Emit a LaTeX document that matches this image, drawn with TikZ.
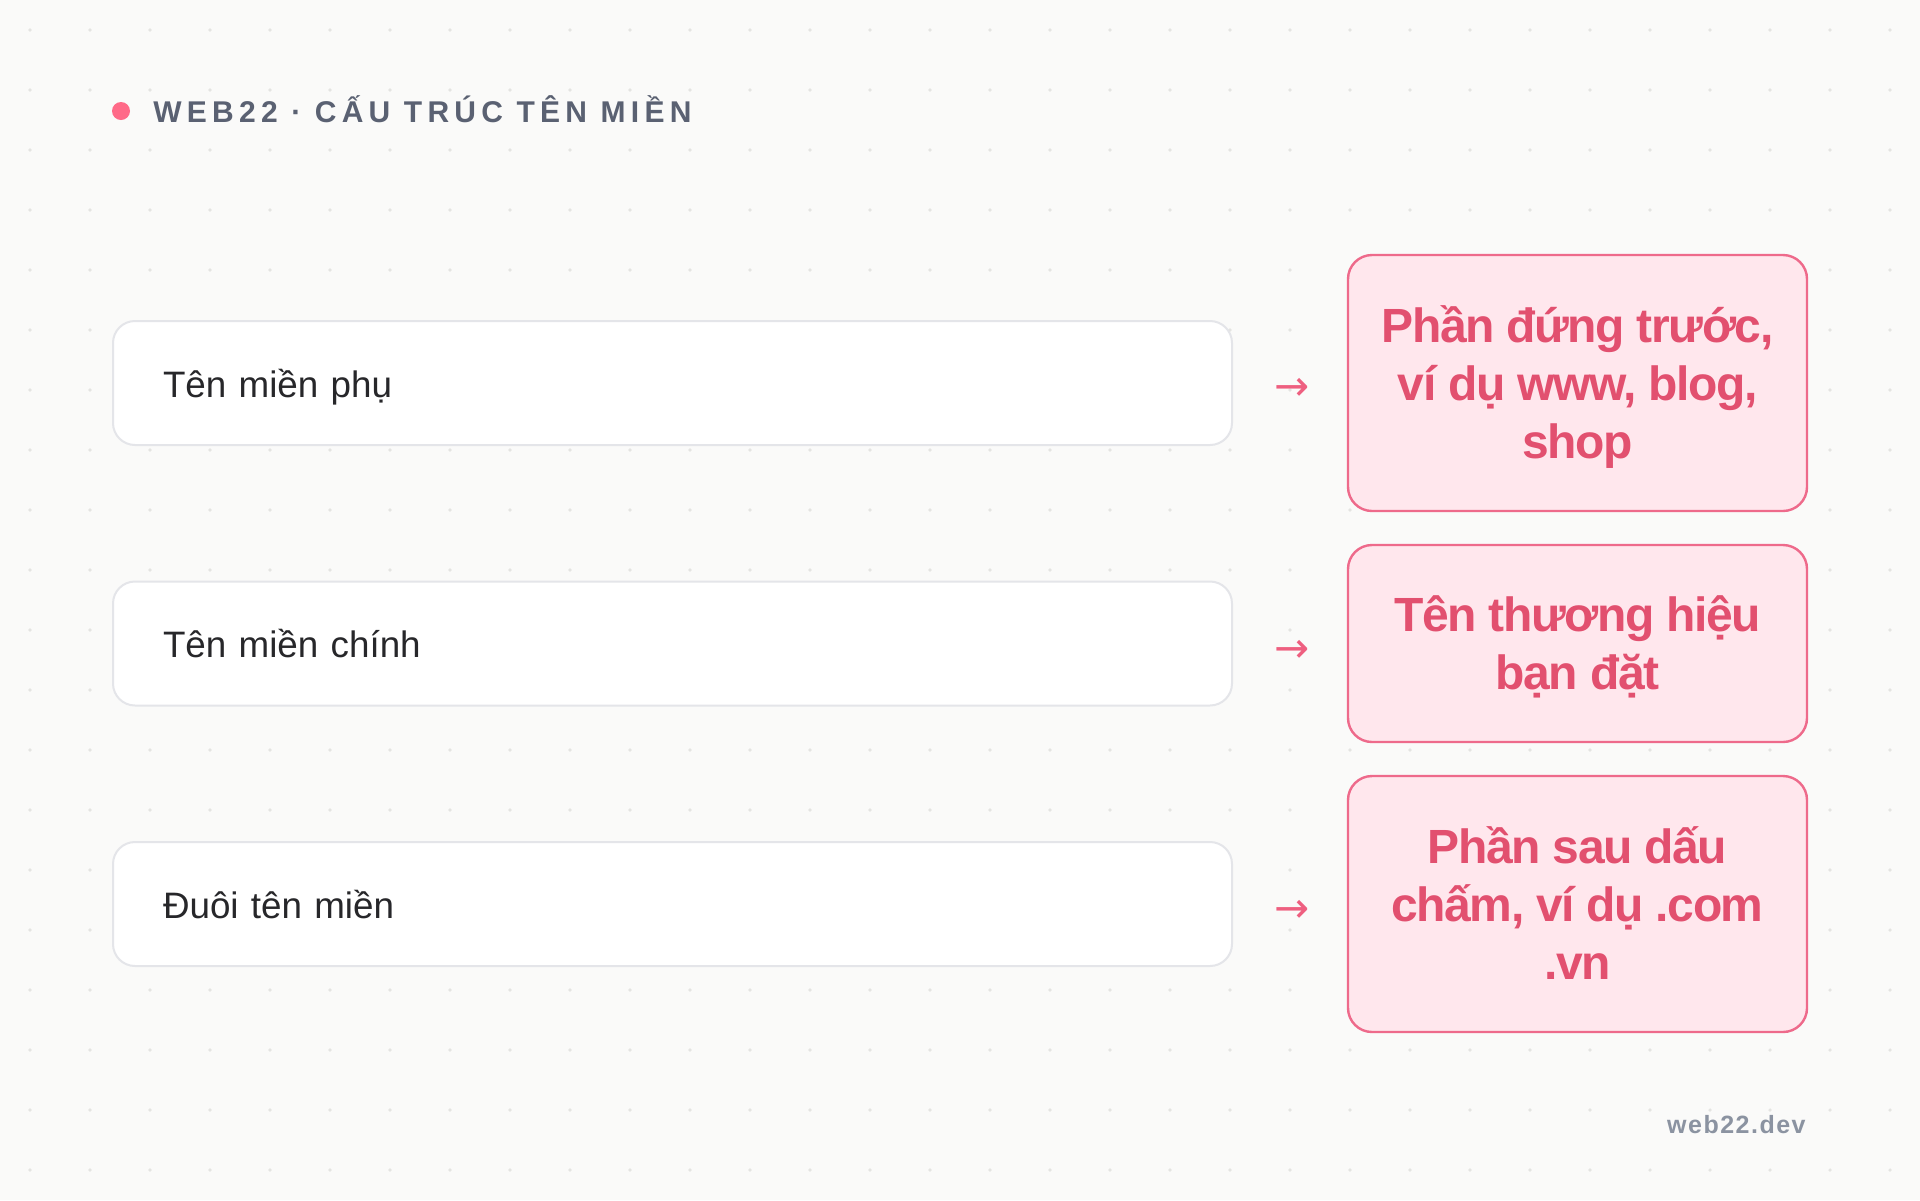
\documentclass[tikz,border=0pt]{standalone}
\usepackage{fontspec}
\setmainfont{Liberation Sans}
\newfontfamily\symfont{DejaVu Sans}
\newfontfamily\titlefont[LetterSpace=17.5]{Liberation Sans}
\newfontfamily\footfont[LetterSpace=6]{Liberation Sans}
\newfontfamily\boxfont[LetterSpace=-3]{Liberation Sans}
\definecolor{bgc}{HTML}{FAFAF9}
\definecolor{dotc}{HTML}{E4E4E2}
\definecolor{accent}{HTML}{FF6A88}
\definecolor{titlec}{HTML}{5A6172}
\definecolor{lborder}{HTML}{E4E5E9}
\definecolor{ltext}{HTML}{27272A}
\definecolor{arrowc}{HTML}{EE5F80}
\definecolor{rfill}{HTML}{FFE7ED}
\definecolor{rborder}{HTML}{EE6A8B}
\definecolor{rtext}{HTML}{E2506F}
\definecolor{footc}{HTML}{8B93A1}
\newcommand{\mystrutL}{\rule[-4.5pt]{0pt}{23pt}}
\newcommand{\mystrutR}{\rule[-5.5pt]{0pt}{28pt}}
\begin{document}
\begin{tikzpicture}[x=0.5pt,y=-0.5pt,
  leftbox/.style={draw=lborder, line width=1pt, fill=white, rounded corners=11pt,
    minimum width=559.5pt, minimum height=62pt, text width=509.5pt,
    inner xsep=25pt, inner ysep=0pt, outer sep=0pt, align=left,
    font=\fontsize{18.4}{22}\selectfont, text=ltext, anchor=west},
  rightbox/.style={draw=rborder, line width=1.2pt, fill=rfill, rounded corners=12pt,
    minimum width=229.5pt, align=center, inner sep=0pt, outer sep=0pt,
    font=\boxfont\bfseries\fontsize{24}{29}\selectfont, text=rtext},
  arrowlbl/.style={font=\symfont\fontsize{21}{21}\selectfont, text=arrowc, inner sep=0pt},
]
\useasboundingbox (0,0) rectangle (1920,1200);
\fill[bgc] (0,0) rectangle (1920,1200);
\foreach \i in {0,...,31}{
  \foreach \j in {0,...,19}{
    \fill[dotc] (30+60*\i,30+60*\j) circle (1.8);
  }
}
% title
\node[circle, fill=accent, minimum size=9pt, inner sep=0pt] (tdot) at (121,111) {};
\node[anchor=base west, inner sep=0pt, text=titlec,
  font=\titlefont\bfseries\fontsize{15}{17}\selectfont] (title) at (153,122.5)
  {WEB22 · CẤU TRÚC TÊN MIỀN};
% left boxes
\node[leftbox] (l1) at (113,383) {\mystrutL Tên miền phụ};
\node[leftbox] (l2) at (113,643.5) {\mystrutL Tên miền chính};
\node[leftbox] (l3) at (113,904) {\mystrutL Đuôi tên miền};
% arrows
\node[arrowlbl] (a1) at (1292,389.5) {→};
\node[arrowlbl] (a2) at (1292,651.5) {→};
\node[arrowlbl] (a3) at (1292,911.5) {→};
% right boxes
\node[rightbox, minimum height=128pt] (r1) at (1577.5,383)
  {\mystrutR Phần đứng trước,\\\mystrutR ví dụ www, blog,\\\mystrutR shop};
\node[rightbox, minimum height=98.5pt] (r2) at (1577.5,643.5)
  {\mystrutR Tên thương hiệu\\\mystrutR bạn đặt};
\node[rightbox, minimum height=128pt] (r3) at (1577.5,904)
  {\mystrutR Phần sau dấu\\\mystrutR chấm, ví dụ .com\\\mystrutR .vn};
% footer
\node[anchor=base east, inner sep=0pt, text=footc,
  font=\footfont\bfseries\fontsize{12.5}{15}\selectfont] (foot) at (1806,1133) {web22.dev};
\end{tikzpicture}
\end{document}
